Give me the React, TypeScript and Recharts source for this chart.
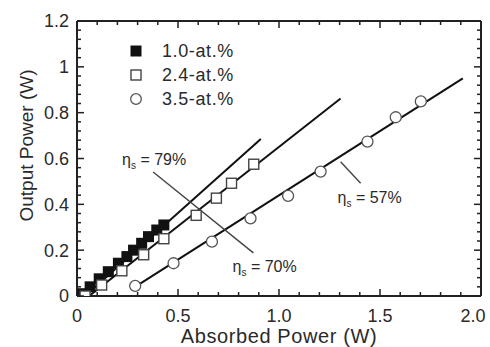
import React from 'react';
import { ComposedChart, Scatter, XAxis, YAxis, Legend } from 'recharts';

const FONT = '"Liberation Sans", Arial, Helvetica, sans-serif';
const TEXT = '#2a2a2a';

// ---- data ----
const series10 = [
  { x: 0.01, y: 0.0 }, { x: 0.03, y: 0.01 }, { x: 0.065, y: 0.04 }, { x: 0.11, y: 0.075 },
  { x: 0.155, y: 0.106 }, { x: 0.205, y: 0.143 }, { x: 0.247, y: 0.172 }, { x: 0.28, y: 0.2 },
  { x: 0.32, y: 0.23 }, { x: 0.354, y: 0.259 }, { x: 0.395, y: 0.288 }, { x: 0.43, y: 0.31 },
];
const series24 = [
  { x: 0.04, y: 0.0 }, { x: 0.122, y: 0.048 }, { x: 0.222, y: 0.11 }, { x: 0.33, y: 0.18 },
  { x: 0.43, y: 0.25 }, { x: 0.59, y: 0.352 }, { x: 0.69, y: 0.427 }, { x: 0.765, y: 0.492 },
  { x: 0.875, y: 0.575 },
];
const series35 = [
  { x: 0.288, y: 0.044 }, { x: 0.478, y: 0.143 }, { x: 0.668, y: 0.237 }, { x: 0.859, y: 0.339 },
  { x: 1.045, y: 0.437 }, { x: 1.206, y: 0.543 }, { x: 1.438, y: 0.674 }, { x: 1.578, y: 0.78 },
  { x: 1.702, y: 0.849 },
];
const fit10 = [{ x: 0.04, y: 0.0 }, { x: 0.91, y: 0.685 }];
const fit24 = [{ x: 0.06, y: 0.0 }, { x: 1.305, y: 0.862 }];
const fit35 = [{ x: 0.27, y: 0.03 }, { x: 1.91, y: 0.95 }];
const leader7970 = [{ x: 0.377, y: 0.541 }, { x: 0.873, y: 0.188 }];
const leader57 = [{ x: 1.305, y: 0.586 }, { x: 1.404, y: 0.492 }];
const annotations = [
  { x: 0.223, y: 0.572, value: '79%' },
  { x: 0.77, y: 0.105, value: '70%' },
  { x: 1.29, y: 0.406, value: '57%' },
];
const legendLabels = ['1.0-at.%', '2.4-at.%', '3.5-at.%'];
const xTicks = [0, 0.1, 0.2, 0.3, 0.4, 0.5, 0.6, 0.7, 0.8, 0.9, 1.0, 1.1, 1.2, 1.3, 1.4, 1.5, 1.6, 1.7, 1.8, 1.9, 2.0];
const xMajorLabels: Record<string, string> = { '0': '0', '0.5': '0.5', '1': '1.0', '1.5': '1.5', '2': '2.0' };
const yTicks = [0, 0.04, 0.08, 0.12, 0.16, 0.2, 0.24, 0.28, 0.32, 0.36, 0.4, 0.44, 0.48, 0.52, 0.56, 0.6,
  0.64, 0.68, 0.72, 0.76, 0.8, 0.84, 0.88, 0.92, 0.96, 1.0, 1.04, 1.08, 1.12, 1.16, 1.2];
const yMajorLabels: Record<string, string> = { '0': '0', '0.2': '0.2', '0.4': '0.4', '0.6': '0.6', '0.8': '0.8', '1': '1', '1.2': '1.2' };

const isXMajor = (v: number) => Math.abs(v * 2 - Math.round(v * 2)) < 1e-6;
const isYMajor = (v: number) => Math.abs(v * 5 - Math.round(v * 5)) < 1e-6;
const key = (v: number) => String(Math.round(v * 100) / 100);

const MAJOR = 7;
const MINOR = 4;
const TICK_STROKE = '#222';

const BottomTick = (p: any) => {
  const v = p.payload.value;
  const major = isXMajor(v);
  const last = Math.abs(v - 2) < 1e-6;
  return (
    <g>
      <line x1={p.x} y1={p.y} x2={p.x} y2={p.y - (major ? MAJOR : MINOR)} stroke={TICK_STROKE} strokeWidth={1.5} />
      {major && (
        <text x={last ? p.x - 8 : p.x} y={p.y + 26} textAnchor="middle" fontFamily={FONT} fontSize={18} fill={TEXT}>
          {xMajorLabels[key(v)]}
        </text>
      )}
    </g>
  );
};
const TopTick = (p: any) => {
  const v = p.payload.value;
  return <line x1={p.x} y1={p.y} x2={p.x} y2={p.y + (isXMajor(v) ? MAJOR : MINOR)} stroke={TICK_STROKE} strokeWidth={1.5} />;
};
const LeftTick = (p: any) => {
  const v = p.payload.value;
  const major = isYMajor(v);
  return (
    <g>
      <line x1={p.x} y1={p.y} x2={p.x + (major ? MAJOR : MINOR)} y2={p.y} stroke={TICK_STROKE} strokeWidth={1.5} />
      {major && (
        <text x={p.x - 8} y={p.y} dy="0.36em" textAnchor="end" fontFamily={FONT} fontSize={18} fill={TEXT}>
          {yMajorLabels[key(v)]}
        </text>
      )}
    </g>
  );
};
const RightTick = (p: any) => {
  const v = p.payload.value;
  return <line x1={p.x} y1={p.y} x2={p.x - (isYMajor(v) ? MAJOR : MINOR)} y2={p.y} stroke={TICK_STROKE} strokeWidth={1.5} />;
};

const XTitle = (p: any) => {
  const vb = p.viewBox;
  return (
    <text x={vb.x + vb.width / 2} y={vb.y + 47} textAnchor="middle" fontFamily={FONT} fontSize={20} letterSpacing={0.6} fill={TEXT}>
      Absorbed Power (W)
    </text>
  );
};
const YTitle = (p: any) => {
  const vb = p.viewBox;
  const cx = vb.x + 26;
  const cy = vb.y + vb.height / 2 - 13;
  return (
    <text x={cx} y={cy} transform={`rotate(-90 ${cx} ${cy})`} textAnchor="middle" dominantBaseline="central" fontFamily={FONT} fontSize={19} fill={TEXT}>
      Output Power (W)
    </text>
  );
};

const FilledSquare = (p: any) => <rect x={p.cx - 5.5} y={p.cy - 5.5} width={11} height={11} fill="#111" />;
const OpenSquare = (p: any) => <rect x={p.cx - 5} y={p.cy - 5} width={10} height={10} fill="#fff" stroke="#444" strokeWidth={1.4} />;
const OpenCircle = (p: any) => <circle cx={p.cx} cy={p.cy} r={5.5} fill="#fff" stroke="#555" strokeWidth={1.3} />;
const NoShape = () => <g />;

const makeAnnotation = (value: string) => (p: any) => (
  <text x={p.cx} y={p.cy} fontFamily={FONT} fontSize={16} fill={TEXT}>
    <tspan>η</tspan>
    <tspan dy={4} fontSize={10}>s</tspan>
    <tspan dy={-4}>{` = ${value}`}</tspan>
  </text>
);

const legendMarker = (i: number) => {
  if (i === 0) return <rect x={1.5} y={1.5} width={11} height={11} fill="#111" />;
  if (i === 1) return <rect x={2} y={2} width={10} height={10} fill="#fff" stroke="#444" strokeWidth={1.4} />;
  return <circle cx={7} cy={7} r={5.3} fill="#fff" stroke="#555" strokeWidth={1.3} />;
};

const LegendContent = () => (
  <div style={{ fontFamily: FONT, fontSize: 18, color: TEXT, lineHeight: '24px' }}>
    {legendLabels.map((label, i) => (
      <div key={label} style={{ display: 'flex', alignItems: 'center', height: 24 }}>
        <svg width={14} height={14} style={{ marginRight: 19, display: 'block' }}>{legendMarker(i)}</svg>
        <span style={{ letterSpacing: 0.6 }}>{label}</span>
      </div>
    ))}
  </div>
);

const axisLine = { stroke: '#222', strokeWidth: 2 };

export default function App() {
  return (
    <div style={{ position: 'absolute', left: 0, top: 0, background: '#fff' }}>
      <ComposedChart width={490} height={347} margin={{ top: 20, right: 8, bottom: 0, left: 0 }}>
        <XAxis xAxisId="b" dataKey="x" type="number" domain={[0, 2]} allowDataOverflow ticks={xTicks} interval={0}
          height={51} tickSize={0} tickMargin={0} tickLine={false} axisLine={axisLine} tick={<BottomTick />} label={<XTitle />} />
        <XAxis xAxisId="t" orientation="top" dataKey="x" type="number" domain={[0, 2]} allowDataOverflow ticks={xTicks} interval={0}
          height={1} tickSize={0} tickMargin={0} tickLine={false} axisLine={axisLine} tick={<TopTick />} />
        <YAxis yAxisId="l" dataKey="y" type="number" domain={[0, 1.2]} allowDataOverflow ticks={yTicks} interval={0}
          width={77} tickSize={0} tickMargin={0} tickLine={false} axisLine={axisLine} tick={<LeftTick />} label={<YTitle />} />
        <YAxis yAxisId="r" orientation="right" dataKey="y" type="number" domain={[0, 1.2]} allowDataOverflow ticks={yTicks} interval={0}
          width={1} tickSize={0} tickMargin={0} tickLine={false} axisLine={axisLine} tick={<RightTick />} />
        <Legend layout="horizontal" verticalAlign="middle" align="center" content={<LegendContent />}
          wrapperStyle={{ position: 'absolute', left: 129, top: 39, width: 'auto', height: 'auto' }} />

        <Scatter xAxisId="b" yAxisId="l" data={fit10} line={{ stroke: '#111', strokeWidth: 2 }} shape={<NoShape />} legendType="none" isAnimationActive={false} />
        <Scatter xAxisId="b" yAxisId="l" data={fit24} line={{ stroke: '#111', strokeWidth: 2 }} shape={<NoShape />} legendType="none" isAnimationActive={false} />
        <Scatter xAxisId="b" yAxisId="l" data={fit35} line={{ stroke: '#111', strokeWidth: 2 }} shape={<NoShape />} legendType="none" isAnimationActive={false} />
        <Scatter xAxisId="b" yAxisId="l" data={leader7970} line={{ stroke: '#444', strokeWidth: 1.4 }} shape={<NoShape />} legendType="none" isAnimationActive={false} />
        <Scatter xAxisId="b" yAxisId="l" data={leader57} line={{ stroke: '#444', strokeWidth: 1.4 }} shape={<NoShape />} legendType="none" isAnimationActive={false} />

        <Scatter name="1.0-at.%" xAxisId="b" yAxisId="l" data={series10} shape={<FilledSquare />} isAnimationActive={false} />
        <Scatter name="2.4-at.%" xAxisId="b" yAxisId="l" data={series24} shape={<OpenSquare />} isAnimationActive={false} />
        <Scatter name="3.5-at.%" xAxisId="b" yAxisId="l" data={series35} shape={<OpenCircle />} isAnimationActive={false} />

        {annotations.map((a) => (
          <Scatter key={a.value} xAxisId="b" yAxisId="l" data={[a]} shape={makeAnnotation(a.value)} legendType="none" isAnimationActive={false} />
        ))}
      </ComposedChart>
    </div>
  );
}
